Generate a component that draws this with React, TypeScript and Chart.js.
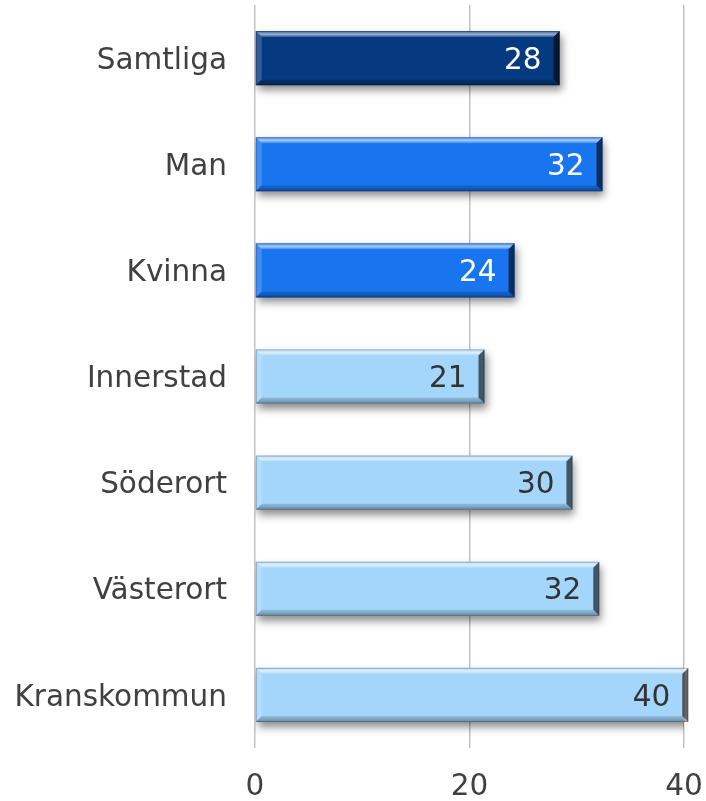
import React, { useEffect, useRef } from "react";
import { Chart, registerables } from "chart.js";

Chart.register(...registerables);

const categories = ["Samtliga", "Man", "Kvinna", "Innerstad", "Söderort", "Västerort", "Kranskommun"];
const values = [28.4, 32.4, 24.2, 21.4, 29.6, 32.1, 40.4];
const barColors = ["#063a80", "#1874ef", "#1874ef", "#a4d6fb", "#a4d6fb", "#a4d6fb", "#a4d6fb"];
const labelColors = ["#ffffff", "#ffffff", "#ffffff", "#333333", "#333333", "#333333", "#333333"];
const xTicks = [0, 20, 40];

const FONT = "'DejaVu Sans', Verdana, sans-serif";

const bevelPlugin = {
  id: "bevel",
  beforeDatasetsDraw(chart: any) {
    const ctx = chart.ctx;
    ctx.save();
    ctx.shadowColor = "rgba(0,0,0,0.45)";
    ctx.shadowBlur = 8;
    ctx.shadowOffsetX = 2;
    ctx.shadowOffsetY = 5;
  },
  afterDatasetsDraw(chart: any) {
    const ctx = chart.ctx;
    ctx.restore();
    const meta = chart.getDatasetMeta(0);
    meta.data.forEach((bar: any, i: number) => {
      const left = bar.base;
      const right = bar.x;
      const top = bar.y - bar.height / 2;
      const bottom = bar.y + bar.height / 2;
      const b = 6;
      ctx.save();
      const g = ctx.createLinearGradient(0, top, 0, top + b);
      g.addColorStop(0, "rgba(255,255,255,0.2)");
      g.addColorStop(0.55, "rgba(255,255,255,0.6)");
      g.addColorStop(1, "rgba(255,255,255,0.15)");
      ctx.fillStyle = g;
      ctx.beginPath();
      ctx.moveTo(left, top);
      ctx.lineTo(right, top);
      ctx.lineTo(right - b, top + b);
      ctx.lineTo(left + b, top + b);
      ctx.closePath();
      ctx.fill();
      ctx.fillStyle = "rgba(255,255,255,0.18)";
      ctx.beginPath();
      ctx.moveTo(left, top);
      ctx.lineTo(left + b, top + b);
      ctx.lineTo(left + b, bottom - b);
      ctx.lineTo(left, bottom);
      ctx.closePath();
      ctx.fill();
      const g2 = ctx.createLinearGradient(0, bottom - b, 0, bottom);
      g2.addColorStop(0, "rgba(0,0,0,0.12)");
      g2.addColorStop(1, "rgba(0,0,0,0.35)");
      ctx.fillStyle = g2;
      ctx.beginPath();
      ctx.moveTo(left, bottom);
      ctx.lineTo(left + b, bottom - b);
      ctx.lineTo(right - b, bottom - b);
      ctx.lineTo(right, bottom);
      ctx.closePath();
      ctx.fill();
      ctx.fillStyle = "rgba(0,0,0,0.6)";
      ctx.beginPath();
      ctx.moveTo(right, top);
      ctx.lineTo(right, bottom);
      ctx.lineTo(right - b, bottom - b);
      ctx.lineTo(right - b, top + b);
      ctx.closePath();
      ctx.fill();
      ctx.strokeStyle = "rgba(0,0,40,0.25)";
      ctx.lineWidth = 1;
      ctx.strokeRect(left + 0.5, top + 0.5, right - left - 1, bottom - top - 1);
      ctx.fillStyle = labelColors[i];
      ctx.font = `29.5px ${FONT}`;
      ctx.textAlign = "right";
      ctx.textBaseline = "middle";
      ctx.fillText(String(Math.round(values[i])), right - 18, bar.y + 3);
      ctx.restore();
    });
  },
};

const zeroPad = (scale: any) => {
  scale.paddingTop = 0;
  scale.paddingBottom = 0;
  scale.paddingLeft = 0;
  scale.paddingRight = 0;
};

export default function App() {
  const ref = useRef<HTMLCanvasElement>(null);
  useEffect(() => {
    if (!ref.current) return;
    const chart = new Chart(ref.current, {
      type: "bar",
      data: {
        labels: categories,
        datasets: [
          {
            data: values,
            backgroundColor: barColors,
            borderWidth: 0,
            barPercentage: 0.51,
            categoryPercentage: 1,
          },
        ],
      },
      options: {
        indexAxis: "y",
        animation: false,
        responsive: false,
        maintainAspectRatio: false,
        layout: { autoPadding: false, padding: { top: 5, right: 22, left: 0, bottom: 0 } },
        plugins: { legend: { display: false }, tooltip: { enabled: false } },
        scales: {
          x: {
            min: 0,
            max: 40,
            afterBuildTicks: (scale: any) => {
              scale.ticks = xTicks.map((v) => ({ value: v }));
            },
            afterFit: (scale: any) => {
              scale.height = 53;
              zeroPad(scale);
            },
            grid: { color: "#c3c3c3", lineWidth: 1.5, drawTicks: false },
            border: { display: false },
            ticks: {
              color: "#404040",
              padding: 22,
              font: { family: FONT, size: 29.5 },
            },
          },
          y: {
            afterFit: (scale: any) => {
              scale.width = 255;
              zeroPad(scale);
            },
            grid: { display: false },
            border: { display: false },
            ticks: {
              color: "#404040",
              padding: 20,
              labelOffset: 3,
              font: { family: FONT, size: 29.5 },
            },
          },
        },
      },
      plugins: [bevelPlugin],
    });
    return () => chart.destroy();
  }, []);
  return (
    <div style={{ position: "fixed", left: 0, top: 0, width: 706, height: 801, background: "#fff" }}>
      <canvas ref={ref} width={706} height={801} style={{ display: "block" }} />
    </div>
  );
}
